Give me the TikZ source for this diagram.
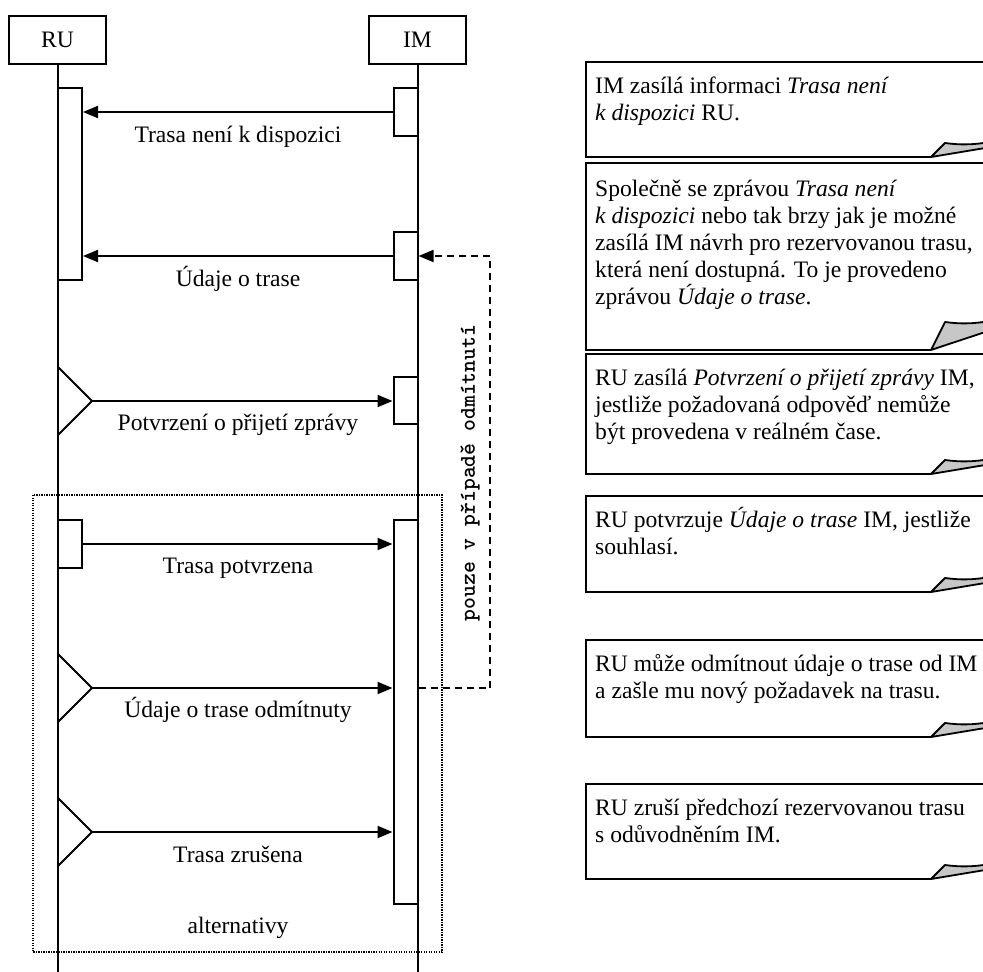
\documentclass[tikz,border=0pt]{standalone}
\usepackage{fontspec}
\setmainfont{Liberation Serif}
\usetikzlibrary{arrows.meta}

\tikzset{
  every picture/.style={x=1pt,y=-1pt},
  txt/.style={font=\fontsize{23.6}{27}\selectfont, inner sep=0pt},
  actor/.style={draw, line width=2pt, minimum width=97pt, minimum height=48pt, inner sep=0pt, txt},
  life/.style={line width=2pt},
  actbox/.style={draw, fill=white, line width=2pt, minimum width=24pt, inner sep=0pt},
  msg/.style={line width=2pt, -{Triangle[length=15pt,width=12pt]}},
  async/.style={line width=2pt},
  backref/.style={line width=1.8pt, dash pattern=on 7pt off 5pt, -{Triangle[length=15pt,width=12pt]}},
  altframe/.style={line width=1.3pt, dash pattern=on 1.2pt off 1.3pt},
  lbl/.style={txt, anchor=base},
  notetext/.style={txt, anchor=north west, align=left},
  noteline/.style={line width=2pt},
  curl/.style={line width=1.8pt, fill=black!22, line join=round},
}

% Note sheet with a curled bottom-right corner: #1 top, #2 bottom, #3 curl height
\newcommand{\notesheet}[3]{%
  \draw[noteline] (1000,#1) -- (586,#1) -- (586,#2) -- (931,#2);
  \draw[curl] (931,#2) -- (945,#2-#3)
    .. controls (960,#2-#3+2) and (972,#2-#3+2) .. (990,#2-#3-1)
    -- (990,#2-0.7*#3) -- cycle;
}

\begin{document}
\begin{tikzpicture}
\useasboundingbox (0,0) rectangle (983,972);

% actors and lifelines
\node[actor] (ru) at (57.5,39.5) {RU};
\node[actor] (im) at (417.5,39.5) {IM};
\coordinate (ruend) at (ru.south |- 0,980);
\coordinate (imend) at (im.south |- 0,980);
\draw[life] (ru.south) -- (ruend);
\draw[life] (im.south) -- (imend);

% activation bars
\node[actbox, minimum height=192pt] (ra1) at (70,184) {};
\node[actbox, minimum height=48pt] (ia1) at (405.5,112) {};
\node[actbox, minimum height=48pt] (ia2) at (405.5,256) {};
\node[actbox, minimum height=47pt] (ia3) at (405.5,400.5) {};
\node[actbox, minimum height=48pt] (ra2) at (70,544) {};
\node[actbox, minimum height=384pt] (ia4) at (405.5,712) {};

% asynchronous senders
\coordinate (s3) at (92,401);
\coordinate (s5) at (92,688);
\coordinate (s6) at (92,832);
\draw[async] (58,367) -- (s3) -- (58,435);
\draw[async] (58,654) -- (s5) -- (58,722);
\draw[async] (58,798) -- (s6) -- (58,866);

% messages
\draw[msg] (ia1.west) -- (ia1.west -| ra1.east);
\draw[msg] (ia2.west) -- (ia2.west -| ra1.east);
\draw[msg] (s3) -- (s3 -| ia3.west);
\draw[msg] (ra2.east) -- (ra2.east -| ia4.west);
\draw[msg] (s5) -- (s5 -| ia4.west);
\draw[msg] (s6) -- (s6 -| ia4.west);

\node[lbl] (l1) at (238,142) {Trasa není k dispozici};
\node[lbl] (l2) at (238,286) {Údaje o trase};
\node[lbl] (l3) at (238,430) {Potvrzení o přijetí zprávy};
\node[lbl] (l4) at (238,573) {Trasa potvrzena};
\node[lbl] (l5) at (238,717) {Údaje o trase odmítnuty};
\node[lbl] (l6) at (238,862) {Trasa zrušena};

% rejection feedback
\coordinate (fb1) at (490,688);
\coordinate (fb2) at (490,256);
\draw[backref] (s5 -| ia4.east) -- (fb1) -- (fb2) -- (ia2.east);
\node[font=\ttfamily\bfseries\fontsize{22.6}{24}\selectfont, rotate=90, inner sep=0pt]
  (fbl) at (470,473) {pouze v případě odmítnutí};

% alternatives frame
\draw[altframe] (33,495) rectangle (442,952);
\node[lbl] (alt) at (238,933) {alternativy};

% explanatory notes
\notesheet{62}{157}{14}
\notesheet{163}{350}{28}
\notesheet{354}{474}{14}
\notesheet{496}{592}{14}
\notesheet{640}{737}{14}
\notesheet{784}{879}{14}

\node[notetext] (n1) at (595,93-22) {\rule{0pt}{22pt}IM zasílá informaci \textit{Trasa není}\\
  \textit{k dispozici} RU.};
\node[notetext] (n2) at (595,196-22) {\rule{0pt}{22pt}Společně se zprávou \textit{Trasa není}\\
  \textit{k dispozici} nebo tak brzy jak je možné\\
  zasílá IM návrh pro rezervovanou trasu,\\
  která není dostupná. To je provedeno\\
  zprávou \textit{Údaje o trase}.};
\node[notetext] (n3) at (595,385-22) {\rule{0pt}{22pt}RU zasílá \textit{Potvrzení o přijetí zprávy} IM,\\
  jestliže požadovaná odpověď nemůže\\
  být provedena v reálném čase.};
\node[notetext] (n4) at (595,527-22) {\rule{0pt}{22pt}RU potvrzuje \textit{Údaje o trase} IM, jestliže\\
  souhlasí.};
\node[notetext] (n5) at (595,671-22) {\rule{0pt}{22pt}RU může odmítnout údaje o trase od IM\\
  a zašle mu nový požadavek na trasu.};
\node[notetext] (n6) at (595,815-22) {\rule{0pt}{22pt}RU zruší předchozí rezervovanou trasu\\
  s odůvodněním IM.};
\end{tikzpicture}
\end{document}
